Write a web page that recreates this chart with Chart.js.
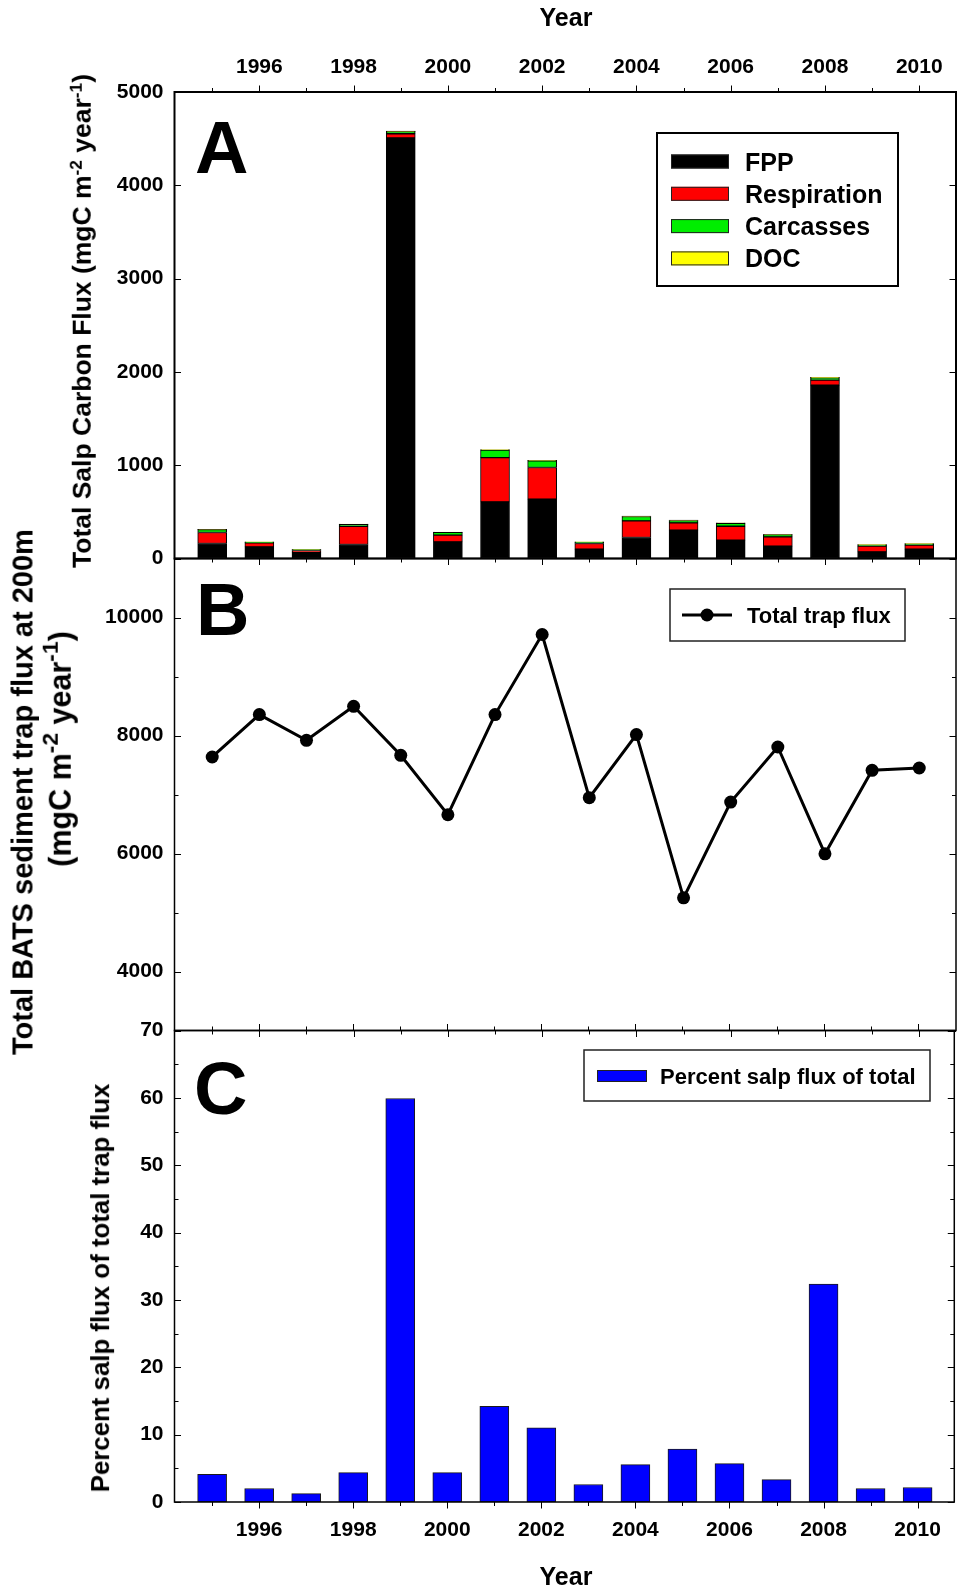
<!DOCTYPE html>
<html lang="en">
<head>
  <meta charset="UTF-8">
  <title>Salp carbon flux at BATS</title>
  <style>
    body {
      margin: 0;
      background: #fff;
    }

    #page {
      position: relative;
      width: 957px;
      height: 1593px;
      font-family: 'Liberation Sans', Arial, sans-serif;
      font-weight: bold;
      color: #000;
    }

    #page canvas {
      position: absolute;
      left: 0;
      top: 0;
    }

    .title {
      position: absolute;
      white-space: nowrap;
      line-height: 1;
      transform: translate(-50%, -50%);
    }

    .rot {
      transform: translate(-50%, -50%) rotate(-90deg);
    }

    sup {
      font-size: 0.65em;
      vertical-align: 0.55em;
      line-height: 0;
    }

    .big sup {
      font-size: 0.75em;
    }
  </style>
</head>
<body>
  <div id="page">
    <canvas id="chartA" width="957" height="1593"></canvas>
    <canvas id="chartB" width="957" height="1593"></canvas>
    <canvas id="chartC" width="957" height="1593"></canvas>

    <!-- axis titles -->
    <div class="title" style="left:566px; top:17px; font-size:25px;">Year</div>
    <div class="title" style="left:566px; top:1576px; font-size:25px;">Year</div>
    <div class="title rot" style="left:82px; top:321px; font-size:26.5px;">Total Salp Carbon Flux (mgC m<sup>-2</sup> year<sup>-1</sup>)</div>
    <div class="title rot" style="left:23px; top:792px; font-size:29px;">Total BATS sediment trap flux at 200m</div>
    <div class="title rot big" style="left:60px; top:749px; font-size:30.5px;">(mgC m<sup>-2</sup> year<sup>-1</sup>)</div>
    <div class="title rot" style="left:101px; top:1288px; font-size:25.8px;">Percent salp flux of total trap flux</div>
  </div>

  <script src="https://cdn.jsdelivr.net/npm/chart.js"></script>
  <script>
    // ---- data ----
    const years = [1995, 1996, 1997, 1998, 1999, 2000, 2001, 2002, 2003, 2004, 2005, 2006, 2007, 2008, 2009, 2010];

    // panel A, salp carbon flux components (mgC m-2 yr-1)
    const fpp         = [161, 125, 68, 150, 4507, 179, 607, 636, 100, 225, 304, 196, 132, 1857, 71, 100];
    const respiration = [118, 43, 18, 196, 46, 71, 475, 339, 61, 179, 78, 150, 100, 54, 61, 43];
    const carcasses   = [30, 8, 10, 20, 22, 30, 80, 72, 15, 46, 25, 32, 25, 25, 15, 15];
    const doc         = [4, 3, 2, 4, 6, 4, 5, 6, 3, 4, 4, 4, 3, 6, 3, 3];
    const seriesA = ['FPP', 'Respiration', 'Carcasses', 'DOC'];
    const colorsA = ['#000000', '#ff0000', '#00ee00', '#ffff00'];

    // panel B, total trap flux at 200 m
    const trapFlux = [7636, 8354, 7919, 8495, 7664, 6657, 8354, 9712, 6946, 8015, 5249, 6872, 7805, 5995, 7410, 7449];

    // panel C, percent salp flux of total
    const salpPercent = [4.1, 2.0, 1.25, 4.37, 59.9, 4.37, 14.2, 11.0, 2.6, 5.55, 7.85, 5.7, 3.33, 32.35, 2.0, 2.15];

    const X_MIN = 1994.2, X_MAX = 2010.78;
    const FONT = '"Liberation Sans", Arial, sans-serif';
    const PAGE_H = 1593;
    // plot areas of the three stacked panels
    const AREA_A = { top: 92, bottom: 558.5 };
    const AREA_B = { top: 558.5, bottom: 1030.5 };
    const AREA_C = { top: 1030.5, bottom: 1502 };
    const Y_AXIS_W = 174.5;

    Chart.defaults.font.family = FONT;
    Chart.defaults.font.weight = 'bold';
    Chart.defaults.font.size = 21;
    Chart.defaults.color = '#000';

    const pts = vals => years.map((yr, i) => ({ x: yr, y: vals[i] }));

    function line(ctx, x1, y1, x2, y2) {
      ctx.beginPath();
      ctx.moveTo(x1, y1);
      ctx.lineTo(x2, y2);
      ctx.stroke();
    }

    // frame, inward y ticks, outward year ticks, panel letter
    const panelPlugin = {
      id: 'panel',
      afterDraw(chart, args, o) {
        const ctx = chart.ctx, a = chart.chartArea;
        const xs = chart.scales.x, ys = chart.scales.y;
        ctx.save();
        ctx.strokeStyle = '#000';
        ctx.lineWidth = 1;
        ys.ticks.forEach(t => {
          const py = Math.round(ys.getPixelForValue(t.value)) + 0.5;
          const len = t.value % o.yMajor === 0 ? 6.5 : 4;
          line(ctx, a.left, py, a.left + len, py);
          line(ctx, a.right, py, a.right - len, py);
        });
        years.forEach(yr => {
          const px = Math.round(xs.getPixelForValue(yr)) + 0.5;
          const len = yr % 2 === 0 ? 6.5 : 4;
          if (o.tickTop) line(ctx, px, a.top, px, a.top - len);
          if (o.tickBottom) line(ctx, px, a.bottom, px, a.bottom + len);
        });
        ctx.lineWidth = o.frameWidth;
        ctx.strokeRect(a.left, a.top, a.right - a.left, a.bottom - a.top);

        ctx.fillStyle = '#000';
        ctx.font = 'bold 74px ' + FONT;
        ctx.textAlign = 'left';
        ctx.textBaseline = 'alphabetic';
        ctx.fillText(o.letter, o.letterX, o.letterY);
        ctx.restore();
      }
    };

    function xAxis(extra) {
      return Object.assign({
        type: 'linear',
        min: X_MIN,
        max: X_MAX,
        offset: false,
        stacked: true,
        grid: { display: false, drawTicks: false },
        border: { display: false },
        ticks: {
          stepSize: 1,
          autoSkip: false,
          includeBounds: false,
          maxRotation: 0,
          callback: v => (v % 2 === 0 ? String(v) : '')
        }
      }, extra);
    }

    function yAxis(min, max, step, labelEvery, extra) {
      return Object.assign({
        min: min,
        max: max,
        grid: { display: false, drawTicks: false },
        border: { display: false },
        ticks: {
          stepSize: step,
          autoSkip: false,
          padding: 11,
          callback: v => (v % labelEvery === 0 ? String(v) : '')
        },
        afterFit: s => { s.width = Y_AXIS_W; }
      }, extra);
    }

    const baseOptions = {
      responsive: false,
      animation: false,
      events: []
    };

    // ---- panel A: stacked salp flux ----
    new Chart(document.getElementById('chartA'), {
      type: 'bar',
      data: {
        datasets: seriesA.map((name, i) => ({
          label: name,
          data: pts([fpp, respiration, carcasses, doc][i]),
          backgroundColor: colorsA[i],
          borderColor: '#000',
          borderWidth: 1,
          borderSkipped: false,
          barThickness: 29
        }))
      },
      options: Object.assign({}, baseOptions, {
        layout: { autoPadding: false, padding: { top: 0, left: 0, right: 1, bottom: PAGE_H - AREA_A.bottom } },
        plugins: {
          legend: { display: false },
          tooltip: { enabled: false },
          panel: { letter: 'A', letterX: 195, letterY: 173, yMajor: 1000, tickTop: true, tickBottom: true, frameWidth: 2 }
        },
        scales: {
          x: xAxis({
            position: 'top',
            ticks: Object.assign(xAxis({}).ticks, { padding: 12 }),
            afterFit: s => { s.height = AREA_A.top; }
          }),
          y: yAxis(0, 5000, 1000, 1000, { stacked: true })
        }
      }),
      plugins: [panelPlugin, {
        id: 'legendA',
        afterDraw(chart) {
          const ctx = chart.ctx;
          ctx.save();
          ctx.strokeStyle = '#000';
          ctx.lineWidth = 2;
          ctx.strokeRect(657, 133, 241, 153);
          ctx.font = 'bold 25px ' + FONT;
          ctx.textBaseline = 'alphabetic';
          seriesA.forEach((name, i) => {
            const cy = 161.5 + i * 32.3;
            ctx.fillStyle = colorsA[i];
            ctx.fillRect(671, cy - 7, 58, 14);
            ctx.lineWidth = 1;
            ctx.strokeStyle = '#222';
            ctx.strokeRect(671.5, cy - 6.5, 57, 13);
            ctx.fillStyle = '#000';
            ctx.fillText(name, 745, cy + 9);
          });
          ctx.restore();
        }
      }]
    });

    // ---- panel B: total trap flux ----
    new Chart(document.getElementById('chartB'), {
      type: 'line',
      data: {
        datasets: [{
          label: 'Total trap flux',
          data: pts(trapFlux),
          borderColor: '#000',
          borderWidth: 3,
          pointRadius: 6.5,
          pointBackgroundColor: '#000',
          pointBorderWidth: 0,
          tension: 0
        }]
      },
      options: Object.assign({}, baseOptions, {
        layout: { autoPadding: false, padding: { top: AREA_B.top, left: 0, right: 1, bottom: PAGE_H - AREA_B.bottom } },
        plugins: {
          legend: { display: false },
          tooltip: { enabled: false },
          panel: { letter: 'B', letterX: 196, letterY: 635, yMajor: 2000, tickTop: false, tickBottom: true, frameWidth: 1.5 }
        },
        scales: {
          x: xAxis({ display: false }),
          y: yAxis(3000, 11000, 1000, 2000)
        }
      }),
      plugins: [panelPlugin, {
        id: 'legendB',
        afterDraw(chart) {
          const ctx = chart.ctx;
          ctx.save();
          ctx.strokeStyle = '#222';
          ctx.lineWidth = 1.5;
          ctx.strokeRect(670, 589, 235, 52);
          ctx.strokeStyle = '#000';
          ctx.lineWidth = 3;
          line(ctx, 682, 615, 732, 615);
          ctx.fillStyle = '#000';
          ctx.beginPath();
          ctx.arc(707, 615, 6.5, 0, Math.PI * 2);
          ctx.fill();
          ctx.font = 'bold 22px ' + FONT;
          ctx.textBaseline = 'alphabetic';
          ctx.fillText(chart.data.datasets[0].label, 747, 623);
          ctx.restore();
        }
      }]
    });

    // ---- panel C: percent of total ----
    new Chart(document.getElementById('chartC'), {
      type: 'bar',
      data: {
        datasets: [{
          label: 'Percent salp flux of total',
          data: pts(salpPercent),
          backgroundColor: '#0000ff',
          borderColor: '#1a1a1a',
          borderWidth: 1,
          borderSkipped: false,
          barThickness: 29
        }]
      },
      options: Object.assign({}, baseOptions, {
        layout: { autoPadding: false, padding: { top: AREA_C.top, left: 0, right: 1, bottom: PAGE_H - AREA_C.bottom - 60 } },
        plugins: {
          legend: { display: false },
          tooltip: { enabled: false },
          panel: { letter: 'C', letterX: 194, letterY: 1114, yMajor: 10, tickTop: true, tickBottom: true, frameWidth: 1.5 }
        },
        scales: {
          x: xAxis({
            position: 'bottom',
            ticks: Object.assign(xAxis({}).ticks, { padding: 16 }),
            afterFit: s => { s.height = 60; }
          }),
          y: yAxis(0, 70, 5, 10)
        }
      }),
      plugins: [panelPlugin, {
        id: 'legendC',
        afterDraw(chart) {
          const ctx = chart.ctx;
          ctx.save();
          ctx.strokeStyle = '#222';
          ctx.lineWidth = 1.5;
          ctx.strokeRect(584, 1050, 346, 51);
          ctx.fillStyle = '#0000ff';
          ctx.fillRect(597, 1070, 50, 12);
          ctx.lineWidth = 1;
          ctx.strokeRect(597.5, 1070.5, 49, 11);
          ctx.fillStyle = '#000';
          ctx.font = 'bold 22px ' + FONT;
          ctx.textBaseline = 'alphabetic';
          ctx.fillText(chart.data.datasets[0].label, 660, 1084);
          ctx.restore();
        }
      }]
    });
  </script>
</body>
</html>
